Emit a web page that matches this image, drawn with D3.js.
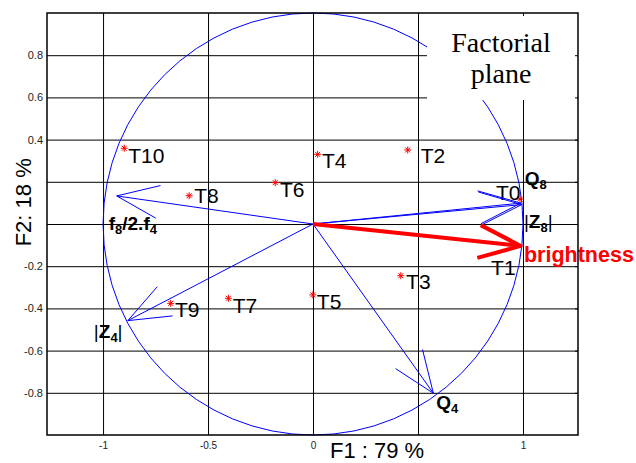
<!DOCTYPE html>
<html>
<head>
<meta charset="utf-8">
<script src="https://cdn.jsdelivr.net/npm/d3@7"></script>
<style>
  body { margin: 0; background: #fff; }
  text { font-family: "Liberation Sans", Arial, sans-serif; }
</style>
</head>
<body>
<div id="chart"></div>
<script>
// Individuals (red stars) projected on the factorial plane
const pointNames = ["T0", "T1", "T2", "T3", "T4", "T5", "T6", "T7", "T8", "T9", "T10"];
const pointF1 = [0.986, 0.948, 0.451, 0.418, 0.022, -0.001, -0.180, -0.403, -0.590, -0.678, -0.899];
const pointF2 = [0.118, -0.103, 0.351, -0.245, 0.330, -0.336, 0.196, -0.352, 0.134, -0.376, 0.359];

// Variables (arrows of the correlation circle)
const varNames = ["Q8", "Z8", "f8/2.f4", "Z4", "Q4", "brightness"];
const varF1 = [0.994, 0.990, -0.935, -0.882, 0.573, 0.989];
const varF2 = [0.092, 0.099, 0.133, -0.458, -0.802, -0.104];

// Axis ticks
const xTicks = [-1, -0.5, 0, 0.5, 1];
const xTickLabels = ["-1", "-0.5", "0", "", "1"];
const yTicks = [-0.8, -0.6, -0.4, -0.2, 0, 0.2, 0.4, 0.6, 0.8];
const yTickLabels = ["-0.8", "-0.6", "-0.4", "-0.2", "", "", "0.4", "0.6", "0.8"];

const margin = { top: 13, right: 58, bottom: 28, left: 47 };
const width = 636 - margin.left - margin.right;
const height = 463 - margin.top - margin.bottom;

const root = d3.select("#chart")
    .append("svg")
    .attr("width", 636)
    .attr("height", 463);

const svg = root.append("g")
    .attr("transform", `translate(${margin.left},${margin.top})`);

// Scales
const x = d3.scaleLinear().domain([-1.267, 1.262]).range([0, width]);
const y = d3.scaleLinear().domain([-1, 1]).range([height, 0]);

// Grid
const gx = svg.append("g")
    .attr("transform", `translate(0,${height})`)
    .call(d3.axisBottom(x).tickValues(xTicks).tickSize(-height).tickFormat(""));
const gy = svg.append("g")
    .call(d3.axisLeft(y).tickValues(yTicks).tickSize(-width).tickFormat(""));
[gx, gy].forEach(g => {
    g.select(".domain").remove();
    g.selectAll("line").attr("stroke", "#000").attr("stroke-width", 1);
});

// Unit circle
svg.append("ellipse")
    .attr("cx", x(0))
    .attr("cy", y(0))
    .attr("rx", x(1) - x(0))
    .attr("ry", y(0) - y(1))
    .attr("fill", "none")
    .attr("stroke", "#0000ff")
    .attr("stroke-width", 1);

// "Factorial plane" box
svg.append("rect")
    .attr("x", 380)
    .attr("y", 1)
    .attr("width", 150)
    .attr("height", 86)
    .attr("fill", "#fff");
svg.append("text")
    .attr("x", 454)
    .attr("y", 38.7)
    .attr("text-anchor", "middle")
    .style("font-family", "'Liberation Serif', 'Times New Roman', serif")
    .style("font-size", "28px")
    .text("Factorial");
svg.append("text")
    .attr("x", 454)
    .attr("y", 69.5)
    .attr("text-anchor", "middle")
    .style("font-family", "'Liberation Serif', 'Times New Roman', serif")
    .style("font-size", "28px")
    .text("plane");

// Points
const points = pointNames.map((name, i) => ({ name, f1: pointF1[i], f2: pointF2[i] }));
const star = "M-3.5,0L3.5,0M0,-3.5L0,3.5M-2.5,-2.5L2.5,2.5M-2.5,2.5L2.5,-2.5";

svg.selectAll(".pt")
    .data(points)
    .join("path")
    .attr("class", "pt")
    .attr("transform", d => `translate(${x(d.f1)},${y(d.f2)})`)
    .attr("d", star)
    .attr("stroke", "#ff0000")
    .attr("stroke-width", 1)
    .attr("fill", "none");

// label offsets from marker (px)
const pointLabelOffset = {
    T0: [-24, 1], T1: [-21, 29], T2: [13, 13.3], T3: [5.3, 13.3], T4: [4.3, 13.4],
    T5: [4, 14.3], T6: [4.7, 14], T7: [4.4, 14.4], T8: [5, 7.6], T9: [4.3, 14], T10: [4, 15]
};

svg.selectAll(".ptlabel")
    .data(points)
    .join("text")
    .attr("class", "ptlabel")
    .attr("x", d => x(d.f1) + pointLabelOffset[d.name][0])
    .attr("y", d => y(d.f2) + pointLabelOffset[d.name][1])
    .style("font-size", "21px")
    .attr("fill", "#000")
    .text(d => d.name);

// Arrows
const vars = varNames.map((name, i) => ({ name, f1: varF1[i], f2: varF2[i] }));
const headLen = 45;
const headAng = 21.5 * Math.PI / 180;

const arrowPath = d => {
    const ox = x(0), oy = y(0);
    const tx = x(d.f1), ty = y(d.f2);
    const a = Math.atan2(ty - oy, tx - ox) + Math.PI;
    const p = d3.path();
    p.moveTo(ox, oy);
    p.lineTo(tx, ty);
    p.moveTo(tx + headLen * Math.cos(a - headAng), ty + headLen * Math.sin(a - headAng));
    p.lineTo(tx, ty);
    p.lineTo(tx + headLen * Math.cos(a + headAng), ty + headLen * Math.sin(a + headAng));
    return p.toString();
};

svg.selectAll(".arrow")
    .data(vars)
    .join("path")
    .attr("class", "arrow")
    .attr("d", arrowPath)
    .attr("fill", "none")
    .attr("stroke", d => d.name === "brightness" ? "#ff0000" : "#0000ff")
    .attr("stroke-width", d => d.name === "brightness" ? 4 : 1)
    .attr("stroke-linejoin", "round");

// Variable labels: pieces [text, bold, subscript] and offset from the arrow tip
const varLabel = {
    "Q8": { off: [3, -20], parts: [["Q", 1, 0], ["8", 1, 1]] },
    "Z8": { off: [3, 25], parts: [["|", 0, 0], ["Z", 1, 0], ["8", 1, 1], ["|", 0, 0]] },
    "f8/2.f4": { off: [-8, 34], parts: [["f", 1, 0], ["8", 1, 1], ["/2.f", 1, 0], ["4", 1, 1]] },
    "Z4": { off: [-34, 17], parts: [["|", 0, 0], ["Z", 1, 0], ["4", 1, 1], ["|", 0, 0]] },
    "Q4": { off: [3, 16], parts: [["Q", 1, 0], ["4", 1, 1]] },
    "brightness": { off: [3.3, 16], parts: [["brightness", 1, 0]] }
};

vars.forEach(d => {
    const lab = varLabel[d.name];
    const t = svg.append("text")
        .attr("x", x(d.f1) + lab.off[0])
        .attr("y", y(d.f2) + lab.off[1])
        .attr("fill", d.name === "brightness" ? "#ff0000" : "#000")
        .style("font-size", d.name === "brightness" ? "21.5px" : "19px");
    let shifted = 0;
    lab.parts.forEach(([s, bold, sub]) => {
        const dy = sub ? 4 - shifted : -shifted;
        shifted = sub ? 4 : 0;
        t.append("tspan")
            .attr("dy", dy)
            .style("font-weight", bold ? "bold" : "normal")
            .style("font-size", sub ? "13px" : null)
            .text(s);
    });
});

// Frame and inner ticks
svg.append("rect")
    .attr("width", width)
    .attr("height", height)
    .attr("fill", "none")
    .attr("stroke", "#000")
    .attr("stroke-width", 1.5);

const tickT = svg.append("g").call(d3.axisTop(x).tickValues(xTicks).tickSize(-3).tickFormat(""));
const tickR = svg.append("g").attr("transform", `translate(${width},0)`)
    .call(d3.axisRight(y).tickValues(yTicks).tickSize(-3).tickFormat(""));
[tickT, tickR].forEach(g => {
    g.select(".domain").remove();
    g.selectAll("line").attr("stroke", "#000");
});

// Tick labels
const ax = svg.append("g")
    .attr("transform", `translate(0,${height})`)
    .call(d3.axisBottom(x).tickValues(xTicks).tickSize(0).tickPadding(7)
        .tickFormat((d, i) => xTickLabels[i]));
const ay = svg.append("g")
    .call(d3.axisLeft(y).tickValues(yTicks).tickSize(0).tickPadding(4)
        .tickFormat((d, i) => yTickLabels[i]));
[ax, ay].forEach(g => g.select(".domain").remove());
ax.selectAll("text").style("font-size", "10px").style("font-family", "'Liberation Sans', Arial").attr("fill", "#222");
ay.selectAll("text").style("font-size", "11px").style("font-family", "'Liberation Sans', Arial").attr("fill", "#222");

// Axis titles
root.append("text")
    .attr("x", 330)
    .attr("y", 458)
    .style("font-size", "22px")
    .text("F1 : 79 %");

root.append("text")
    .attr("transform", "translate(30.7,202.3) rotate(-90)")
    .attr("text-anchor", "middle")
    .style("font-size", "22px")
    .text("F2: 18 %");
</script>
</body>
</html>
